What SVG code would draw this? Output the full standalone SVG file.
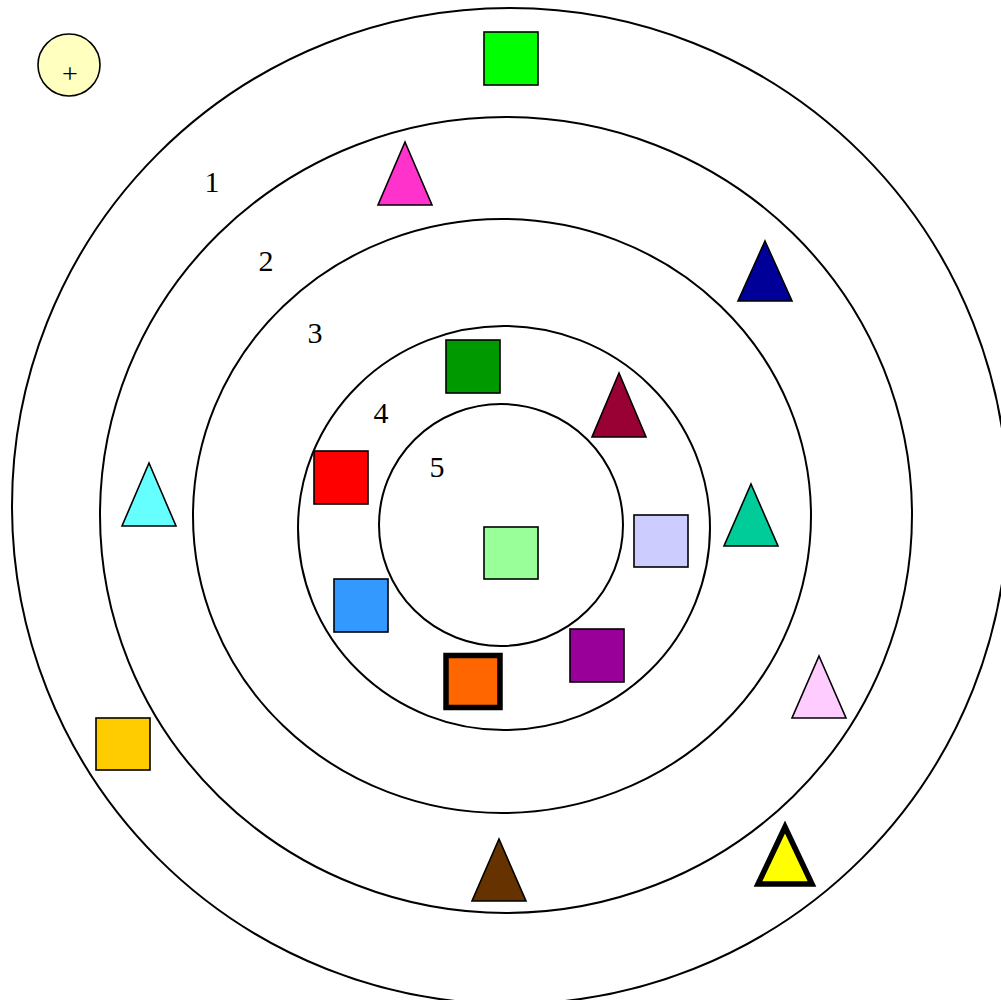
<svg xmlns="http://www.w3.org/2000/svg" width="1001" height="1000" viewBox="0 0 1001 1000">
<style>
.ring{fill:none;stroke:#000;stroke-width:2}
.n{stroke:#000;stroke-width:1.6}
.thick{stroke:#000;stroke-width:5.5}
.lbl{font-family:"Liberation Serif","Times New Roman",serif;font-size:30px;fill:#000;text-anchor:middle}
</style>
<rect width="1001" height="1000" fill="#fff"/>
<g id="rings">
<ellipse class="ring" cx="510" cy="506" rx="498" ry="498"/>
<ellipse class="ring" cx="506" cy="515" rx="406" ry="398"/>
<ellipse class="ring" cx="502" cy="516" rx="309" ry="297"/>
<ellipse class="ring" cx="504" cy="528" rx="206" ry="202"/>
<ellipse class="ring" cx="501" cy="525" rx="122" ry="121"/>
</g>
<g id="ring-labels">
<text class="lbl" x="212" y="192">1</text>
<text class="lbl" x="266" y="271">2</text>
<text class="lbl" x="315" y="343">3</text>
<text class="lbl" x="381" y="423">4</text>
<text class="lbl" x="437" y="477">5</text>
</g>
<g id="plus-node">
<circle class="n" cx="69" cy="65" r="31" fill="#ffffc0"/>
<text class="lbl" x="70" y="83" style="font-size:28px">+</text>
</g>
<g id="connectors"></g>
<g id="n-green-sq"><rect class="n" x="484" y="32" width="54" height="53" fill="#00ff00"/></g>
<g id="n-magenta-tri"><polygon class="n" points="405,142 432,205 378,205" fill="#ff33cc"/></g>
<g id="n-navy-tri"><polygon class="n" points="765,241 792,301 738,301" fill="#000099"/></g>
<g id="n-darkgreen-sq"><rect class="n" x="446" y="340" width="54" height="53" fill="#009900"/></g>
<g id="n-crimson-tri"><polygon class="n" points="619,373 646,437 592,437" fill="#990033"/></g>
<g id="n-red-sq"><rect class="n" x="314" y="451" width="54" height="53" fill="#ff0000"/></g>
<g id="n-cyan-tri"><polygon class="n" points="149,463 176,526 122,526" fill="#66ffff"/></g>
<g id="n-teal-tri"><polygon class="n" points="751,484 778,546 724,546" fill="#00cc99"/></g>
<g id="n-lavender-sq"><rect class="n" x="634" y="515" width="54" height="52" fill="#ccccff"/></g>
<g id="n-lightgreen-sq"><rect class="n" x="484" y="527" width="54" height="52" fill="#99ff99"/></g>
<g id="n-blue-sq"><rect class="n" x="334" y="579" width="54" height="53" fill="#3399ff"/></g>
<g id="n-orange-sq"><rect class="thick" x="446" y="655.5" width="54" height="52" fill="#ff6600"/></g>
<g id="n-purple-sq"><rect class="n" x="570" y="629" width="54" height="53" fill="#990099"/></g>
<g id="n-pink-tri"><polygon class="n" points="819,656 846,718 792,718" fill="#ffccff"/></g>
<g id="n-gold-sq"><rect class="n" x="96" y="718" width="54" height="52" fill="#ffcc00"/></g>
<g id="n-brown-tri"><polygon class="n" points="499,839 526,901 472,901" fill="#663300"/></g>
<g id="n-yellow-tri"><polygon class="thick" points="785,827 812,884 758,884" fill="#ffff00" stroke-linejoin="miter"/></g>
</svg>
